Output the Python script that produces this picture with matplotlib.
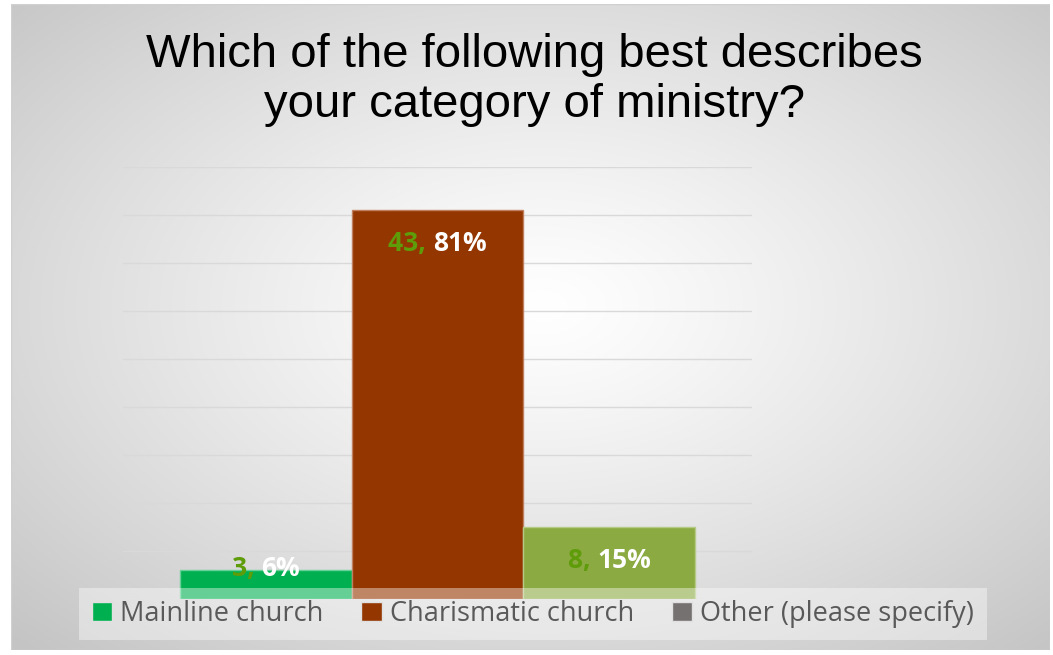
import numpy as np
import matplotlib
matplotlib.use("Agg")
import matplotlib.pyplot as plt
from matplotlib.patches import Rectangle
from matplotlib.offsetbox import TextArea, HPacker, AnnotationBbox

title = "Which of the following best describes\nyour category of ministry?"
categories = ["Mainline church", "Charismatic church", "Other (please specify)"]
counts = [3, 43, 8]
percents = [6, 81, 15]
bar_colors = ["#00B050", "#943600", "#8CAA42"]
legend_colors = ["#00B050", "#943600", "#767171"]
edge_colors = ["#66d096", "#c08060", "#b5ca86"]

W, H = 1053, 655
fig = plt.figure(figsize=(W / 100, H / 100), dpi=100)
fig.patch.set_facecolor("white")

# chart area with radial gradient background
bg = fig.add_axes([11 / W, 1 - 650 / H, (1050 - 11) / W, (650 - 4) / H])
yy, xx = np.mgrid[0:300, 0:480]
cx, cy = 245, 140
r = np.sqrt(((xx - cx) / 240) ** 2 + ((yy - cy) / 150) ** 2)
shade = 1 - 0.23 * np.clip(r / 1.45, 0, 1) ** 1.2
bg.imshow(np.dstack([shade, shade, shade]), aspect="auto", extent=[0, 1, 0, 1],
          interpolation="bilinear")
bg.set_axis_off()
bg.add_patch(Rectangle((0, 0), 1, 1, transform=bg.transAxes, fill=False,
                       edgecolor="#d0d0d0", linewidth=1))

fig.text(534 / W, 1 - 80 / H, title, ha="center", va="center",
         fontsize=34, family="Liberation Sans", color="black", linespacing=1.2)

ax = fig.add_axes([123 / W, 1 - 599 / H, (752 - 123) / W, (599 - 167) / H])
ax.patch.set_alpha(0)
x = np.arange(len(categories))
ax.bar(x, percents, width=1.0, color=bar_colors, edgecolor=edge_colors,
       linewidth=1, zorder=3)
ax.set_xlim(-0.83, 2.83)
ax.set_ylim(0, 90)
ax.set_yticks(np.arange(0, 91, 10))
ax.yaxis.grid(True, color="#d9d9d9", linewidth=1)
ax.set_axisbelow(True)
ax.set_xticks([])
ax.tick_params(left=False, labelleft=False)
for s in ax.spines.values():
    s.set_visible(False)

for xi, c, p in zip(x, counts, percents):
    ly = p - 6.9 if p > 10 else p + 0.3
    t1 = TextArea(f"{c}, ", textprops=dict(color="#5E9C0A", fontsize=19,
                                            fontweight="bold", family="Open Sans"))
    t2 = TextArea(f"{p}%", textprops=dict(color="white", fontsize=19,
                                           fontweight="bold", family="Open Sans"))
    box = HPacker(children=[t1, t2], align="baseline", pad=0, sep=0)
    ab = AnnotationBbox(box, (xi, ly), frameon=False, box_alignment=(0.5, 0.5),
                        zorder=5)
    ax.add_artist(ab)

handles = [Rectangle((0, 0), 1, 1, facecolor=c, edgecolor="#e0e0e0")
           for c in legend_colors]
leg = fig.legend(handles, categories, loc="center", ncol=3,
                 bbox_to_anchor=(533 / W, 1 - 614 / H),
                 prop=dict(family="Open Sans", size=19.5), labelcolor="#595959",
                 frameon=True, facecolor="white", framealpha=0.4, edgecolor="none",
                 fancybox=False, handlelength=0.75, handleheight=0.75,
                 handletextpad=0.3, columnspacing=1.4, borderpad=0.45,
                 borderaxespad=0)
leg.set_zorder(10)

fig.savefig("out.png", dpi=100)
